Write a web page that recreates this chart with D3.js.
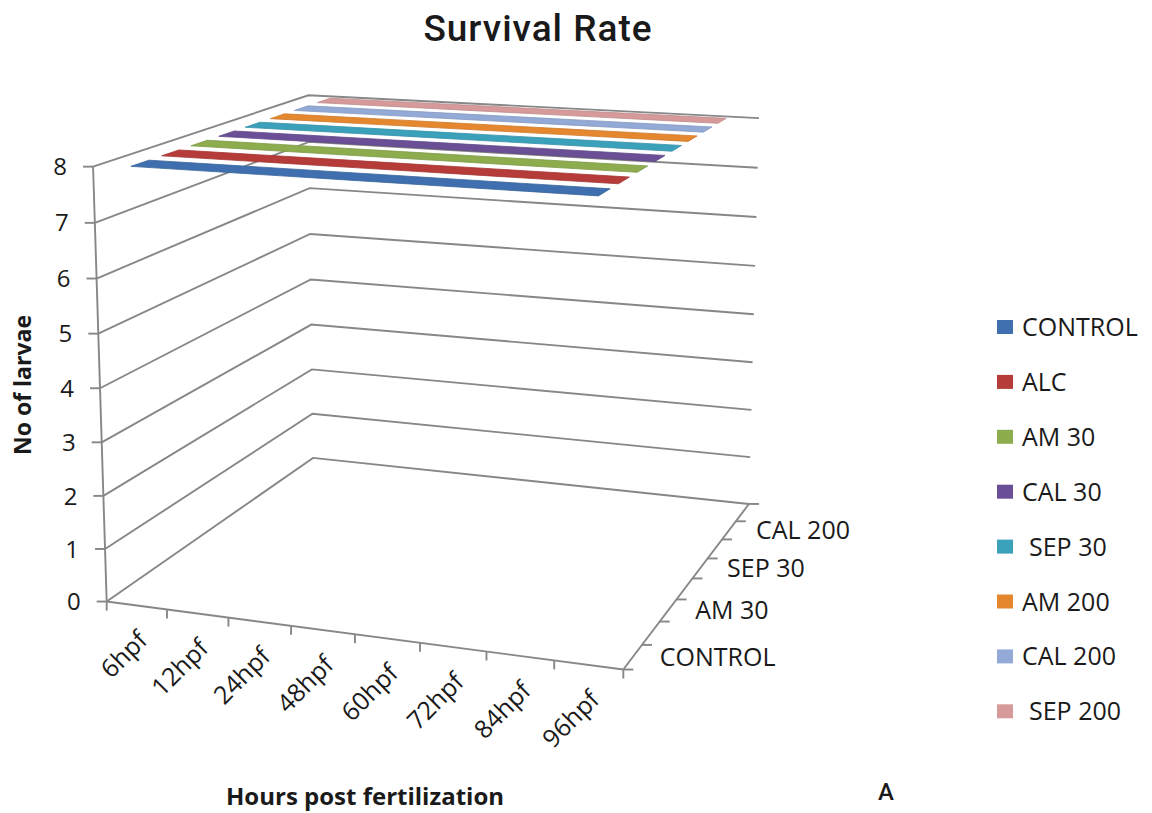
<!DOCTYPE html>
<html>
<head>
<meta charset="utf-8">
<script src="https://cdn.jsdelivr.net/npm/d3@7"></script>
<style>
  body { margin: 0; background: #fff; }
  svg { display: block; }
</style>
</head>
<body>
<script>
// data
const hours = ["6hpf", "12hpf", "24hpf", "48hpf", "60hpf", "72hpf", "84hpf", "96hpf"];
const seriesNames = ["CONTROL", "ALC", "AM 30", "CAL 30", "SEP 30", "AM 200", "CAL 200", "SEP 200"];
const seriesColors = ["#3f6fae", "#b63c3a", "#8cac4e", "#6b4f96", "#3ba0ba", "#e5872f", "#93aad6", "#d69a9a"];
const control = [8, 8, 8, 8, 8, 8, 8, 8];
const alc = [8, 8, 8, 8, 8, 8, 8, 8];
const am30 = [8, 8, 8, 8, 8, 8, 8, 8];
const cal30 = [8, 8, 8, 8, 8, 8, 8, 8];
const sep30 = [8, 8, 8, 8, 8, 8, 8, 8];
const am200 = [8, 8, 8, 8, 8, 8, 8, 8];
const cal200 = [8, 8, 8, 8, 8, 8, 8, 8];
const sep200 = [8, 8, 8, 8, 8, 8, 8, 8];
const seriesValues = [control, alc, am30, cal30, sep30, am200, cal200, sep200];
const yTicks = [0, 1, 2, 3, 4, 5, 6, 7, 8];
const depthLabels = ["CONTROL", "AM 30", "SEP 30", "CAL 200"];

const width = 1152;
const height = 813;

const svg = d3.select("body")
  .append("svg")
  .attr("width", width)
  .attr("height", height);

// normalised scales for the 3d box (0..1 on each side)
const xBand = d3.scaleBand().domain(hours).range([0, 1]);
const zBand = d3.scaleBand().domain(seriesNames).range([0, 1]);
const yScale = d3.scaleLinear().domain([0, 8]).range([0, 1]);

// fit a perspective camera to the box corners as seen in the picture
const calib = [
  [0, 0, 0, 108, 601], [0, 0, 1, 92, 166], [0, 0, 0.5, 100, 389],
  [1, 0, 0, 623, 670],
  [0, 1, 0, 311, 458], [0, 1, 1, 310, 95], [0, 1, 0.5, 311, 280],
  [1, 1, 0, 750, 503], [1, 1, 1, 758, 118], [1, 1, 0.5, 754, 315]
];
function fitCamera(pts) {
  const A = [], b = [];
  pts.forEach(([u, w, v, x, y]) => {
    A.push([u, w, v, 1, 0, 0, 0, 0, -x * u, -x * w, -x * v]); b.push(x);
    A.push([0, 0, 0, 0, u, w, v, 1, -y * u, -y * w, -y * v]); b.push(y);
  });
  const n = 11;
  const M = d3.range(n).map(i => d3.range(n + 1).map(j =>
    j < n ? d3.sum(A, (r) => r[i] * r[j]) : d3.sum(A, (r, k) => r[i] * b[k])));
  for (let c = 0; c < n; c++) {
    let p = c;
    for (let r = c + 1; r < n; r++) if (Math.abs(M[r][c]) > Math.abs(M[p][c])) p = r;
    [M[c], M[p]] = [M[p], M[c]];
    for (let r = 0; r < n; r++) {
      if (r === c) continue;
      const f = M[r][c] / M[c][c];
      for (let k = c; k <= n; k++) M[r][k] -= f * M[c][k];
    }
  }
  return M.map((r, i) => r[n] / r[i]);
}
const cam = fitCamera(calib);
function project(u, w, v) {
  const d = cam[8] * u + cam[9] * w + cam[10] * v + 1;
  return [
    (cam[0] * u + cam[1] * w + cam[2] * v + cam[3]) / d,
    (cam[4] * u + cam[5] * w + cam[6] * v + cam[7]) / d
  ];
}
const line = d3.line();

const gridColor = "#878787";
const textColor = "#1a1a1a";
const labelFont = "'Open Sans', sans-serif";

// walls: gridlines on the left and back walls
const grid = svg.append("g")
  .attr("fill", "none")
  .attr("stroke", gridColor)
  .attr("stroke-width", 1.9);

yTicks.forEach(t => {
  const v = yScale(t);
  grid.append("path")
    .attr("d", line([project(0, 0, v), project(0, 1, v), project(1, 1, v)]));
});

// value axis (front left edge)
grid.append("path").attr("d", line([project(0, 0, 0), project(0, 0, 1)]));
yTicks.forEach(t => {
  const [px, py] = project(0, 0, yScale(t));
  grid.append("path").attr("d", line([[px - 10, py], [px, py]]));
});

// category axis (front edge of floor)
grid.append("path").attr("d", line([project(0, 0, 0), project(1, 0, 0)]));
d3.range(hours.length + 1).forEach(k => {
  const [px, py] = project(k / hours.length, 0, 0);
  grid.append("path").attr("d", line([[px, py], [px, py + 9]]));
});

// series (depth) axis (right edge of floor)
grid.append("path").attr("d", line([project(1, 0, 0), project(1, 1, 0)]));
d3.range(seriesNames.length + 1).forEach(k => {
  const [px, py] = project(1, k / seriesNames.length, 0);
  grid.append("path").attr("d", line([[px, py], [px + 10, py]]));
});

// series ribbons, drawn back to front
const half = zBand.bandwidth() * 0.29;
const ribbons = svg.append("g");
d3.range(seriesNames.length).reverse().forEach(i => {
  const name = seriesNames[i];
  const wc = zBand(name) + zBand.bandwidth() / 2;
  const vals = seriesValues[i];
  const front = hours.map((h, k) => project(xBand(h) + xBand.bandwidth() / 2, wc - half, yScale(vals[k])));
  const back = hours.map((h, k) => project(xBand(h) + xBand.bandwidth() / 2, wc + half, yScale(vals[k])));
  const col = d3.color(seriesColors[i]);
  ribbons.append("path")
    .attr("d", line(front.concat(back.reverse())) + "Z")
    .attr("fill", col)
    .attr("stroke", col.darker(0.3))
    .attr("stroke-width", 0.8)
    .attr("stroke-linejoin", "round");
});

// y tick labels
svg.append("g")
  .selectAll("text")
  .data(yTicks)
  .join("text")
  .attr("x", d => project(0, 0, yScale(d))[0] - 26)
  .attr("y", d => project(0, 0, yScale(d))[1])
  .attr("dy", "0.36em")
  .attr("text-anchor", "end")
  .attr("font-family", labelFont)
  .attr("font-size", 24)
  .attr("fill", textColor)
  .text(d => d);

// category labels (rotated)
svg.append("g")
  .selectAll("text")
  .data(hours)
  .join("text")
  .attr("transform", d => {
    const [px, py] = project(xBand(d) + xBand.bandwidth() / 2, 0, 0);
    return `translate(${px + 6},${py + 30}) rotate(-45)`;
  })
  .attr("dy", "0.36em")
  .attr("text-anchor", "end")
  .attr("font-family", labelFont)
  .attr("font-size", 25)
  .attr("fill", textColor)
  .text(d => d);

// depth labels
svg.append("g")
  .selectAll("text")
  .data(depthLabels)
  .join("text")
  .attr("x", d => project(1, zBand(d) + zBand.bandwidth() / 2, 0)[0] + 27)
  .attr("y", d => project(1, zBand(d) + zBand.bandwidth() / 2, 0)[1])
  .attr("dy", "0.36em")
  .attr("font-family", labelFont)
  .attr("font-size", 25)
  .attr("fill", textColor)
  .text(d => d);

// title
svg.append("text")
  .attr("x", 538)
  .attr("y", 41)
  .attr("text-anchor", "middle")
  .attr("font-family", "Roboto, sans-serif")
  .attr("font-weight", 500)
  .attr("font-size", 37)
  .attr("letter-spacing", 1)
  .attr("fill", textColor)
  .text("Survival Rate");

// axis titles
svg.append("text")
  .attr("transform", "translate(31,385) rotate(-90)")
  .attr("text-anchor", "middle")
  .attr("font-family", labelFont)
  .attr("font-weight", 700)
  .attr("font-size", 23)
  .attr("fill", textColor)
  .text("No of larvae");

svg.append("text")
  .attr("x", 365)
  .attr("y", 805)
  .attr("text-anchor", "middle")
  .attr("font-family", labelFont)
  .attr("font-weight", 700)
  .attr("font-size", 24)
  .attr("fill", textColor)
  .text("Hours post fertilization");

svg.append("text")
  .attr("x", 886)
  .attr("y", 800)
  .attr("text-anchor", "middle")
  .attr("font-family", "Roboto, sans-serif")
  .attr("font-weight", 500)
  .attr("font-size", 24)
  .attr("fill", textColor)
  .text("A");

// legend
const legend = svg.append("g")
  .attr("transform", "translate(997,327)");
const rows = legend.selectAll("g")
  .data(seriesNames)
  .join("g")
  .attr("transform", (d, i) => `translate(0,${i * 54.9})`);
rows.append("rect")
  .attr("x", 0)
  .attr("y", -7)
  .attr("width", 16)
  .attr("height", 14)
  .attr("fill", (d, i) => seriesColors[i]);
rows.append("text")
  .attr("x", d => d.startsWith("SEP") ? 32 : 25)
  .attr("dy", "0.36em")
  .attr("font-family", labelFont)
  .attr("font-size", 25)
  .attr("fill", textColor)
  .text(d => d);
</script>
</body>
</html>
